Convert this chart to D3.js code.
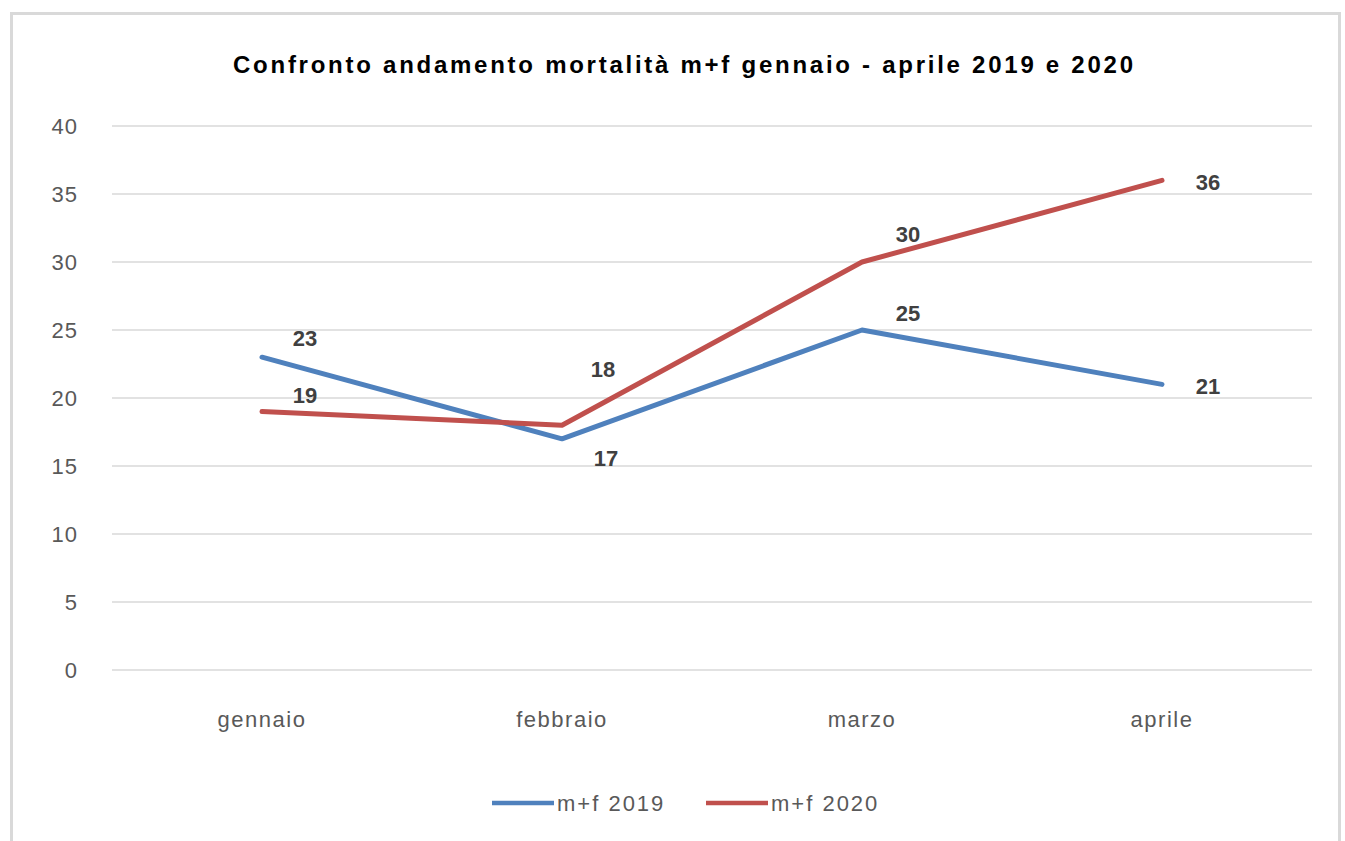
<!DOCTYPE html>
<html>
<head>
<meta charset="utf-8">
<script src="https://cdn.jsdelivr.net/npm/d3@7"></script>
<style>
  body { margin: 0; background: #fff; }
  text { font-family: "Liberation Sans", Arial, sans-serif; }
</style>
</head>
<body>
<div id="chart-area"></div>
<script>
// data
const months = ["gennaio", "febbraio", "marzo", "aprile"]
const values2019 = [23, 17, 25, 21]
const values2020 = [19, 18, 30, 36]
const seriesNames = ["m+f 2019", "m+f 2020"]
const yTicks = [0, 5, 10, 15, 20, 25, 30, 35, 40]

const W = 1345, H = 841
const margin = { left: 112, top: 126, right: 33, bottom: 171 }
const width = W - margin.left - margin.right
const height = H - margin.top - margin.bottom

const svg = d3.select("#chart-area").append("svg")
	.attr("width", W)
	.attr("height", H)

// outer frame
svg.append("rect")
	.attr("x", 11.5).attr("y", 13.5)
	.attr("width", 1328).attr("height", 840)
	.attr("fill", "#fff")
	.attr("stroke", "#d9d9d9")
	.attr("stroke-width", 3)

svg.append("text")
	.attr("x", 233)
	.attr("y", 73)
	.attr("font-size", "24px")
	.attr("font-weight", "bold")
	.attr("fill", "#000")
	.attr("textLength", 900)
	.attr("lengthAdjust", "spacing")
	.text("Confronto andamento mortalità m+f gennaio - aprile 2019 e 2020")

const g = svg.append("g")
	.attr("transform", `translate(${margin.left},${margin.top})`)

const x = d3.scaleBand()
	.domain(months)
	.range([0, width])

const y = d3.scaleLinear()
	.domain([0, 40])
	.range([height, 0])

// gridlines
g.append("g")
	.selectAll("line")
	.data(yTicks)
	.enter().append("line")
	.attr("x1", 0).attr("x2", width)
	.attr("y1", d => y(d)).attr("y2", d => y(d))
	.attr("stroke", "#d9d9d9")
	.attr("stroke-width", 1.5)

const yAxis = g.append("g")
	.attr("transform", "translate(-34,0)")
	.call(d3.axisLeft(y).tickValues(yTicks).tickSize(0).tickPadding(0))
yAxis.select(".domain").remove()
yAxis.selectAll("text")
	.attr("font-size", "22px")
	.attr("letter-spacing", "1px")
	.attr("fill", "#595959")
	.attr("font-family", "Liberation Sans, Arial, sans-serif")

const xAxis = g.append("g")
	.attr("transform", `translate(0,${height})`)
	.call(d3.axisBottom(x).tickSize(0).tickPadding(41))
xAxis.select(".domain").remove()
xAxis.selectAll("text")
	.attr("font-size", "22px")
	.attr("letter-spacing", "1.5px")
	.attr("fill", "#595959")
	.attr("font-family", "Liberation Sans, Arial, sans-serif")

const colors = d3.scaleOrdinal()
	.domain(seriesNames)
	.range(["#4f81bd", "#c0504d"])

const line = d3.line()
	.x((d, i) => x(months[i]) + x.bandwidth() / 2)
	.y(d => y(d))

const series = [values2019, values2020]

g.selectAll(".series")
	.data(series)
	.enter().append("path")
	.attr("class", "series")
	.attr("d", line)
	.attr("fill", "none")
	.attr("stroke", (d, i) => colors(seriesNames[i]))
	.attr("stroke-width", 5)
	.attr("stroke-linejoin", "round")
	.attr("stroke-linecap", "round")

// label placement (offsets in px, per series / point)
const labelOffsets = [
	[[43, -19], [44, 19], [46, -17], [46, 2]],
	[[43, -17], [41, -56], [46, -28], [46, 2]]
]

series.forEach((vals, s) => {
	g.selectAll(".lbl" + s)
		.data(vals)
		.enter().append("text")
		.attr("class", "lbl" + s)
		.attr("x", (d, i) => x(months[i]) + x.bandwidth() / 2 + labelOffsets[s][i][0])
		.attr("y", (d, i) => y(d) + labelOffsets[s][i][1])
		.attr("dy", "0.36em")
		.attr("text-anchor", "middle")
		.attr("font-size", "22px")
		.attr("font-weight", "bold")
		.attr("fill", "#404040")
		.text(d => d)
})

// legend
const legend = svg.append("g")
	.attr("transform", "translate(492,803)")
const legendX = [0, 214]
seriesNames.forEach((name, i) => {
	const lg = legend.append("g").attr("transform", `translate(${legendX[i]},0)`)
	lg.append("line")
		.attr("x1", 0).attr("x2", 62)
		.attr("stroke", colors(name))
		.attr("stroke-width", 4.5)
	lg.append("text")
		.attr("x", 65)
		.attr("dy", "0.36em")
		.attr("font-size", "22px")
		.attr("letter-spacing", "2px")
		.attr("fill", "#595959")
		.text(name)
})
</script>
</body>
</html>
